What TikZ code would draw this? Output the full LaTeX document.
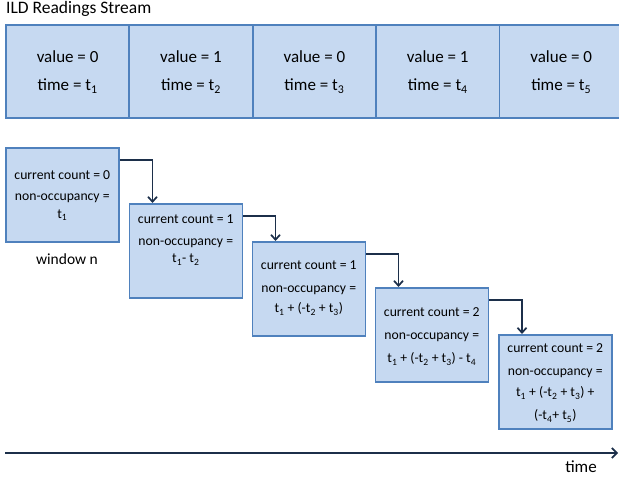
\documentclass[tikz,border=0pt]{standalone}
\usepackage{fontspec}
\setmainfont{Carlito}
\usetikzlibrary{arrows.meta}
\definecolor{cellfill}{HTML}{C6D9F1}
\definecolor{celldraw}{HTML}{4F81BD}
\definecolor{linkcol}{HTML}{1C2F4A}
\tikzset{
  x=1pt, y=-1pt,
  cell/.style={draw=celldraw, fill=cellfill, line width=1.8pt, rectangle,
    anchor=north west, inner sep=0pt, minimum width=123.4pt, minimum height=93pt},
  winbox/.style={draw=celldraw, fill=cellfill, line width=1.6pt, rectangle,
    anchor=north west, inner sep=0pt, minimum width=113pt, minimum height=94pt},
  celltext/.style={anchor=base, font=\fontsize{17}{20}\selectfont, inner sep=0pt},
  wintext/.style={anchor=base, font=\fontsize{13.7}{16}\selectfont, inner sep=0pt},
  plain/.style={anchor=base, font=\fontsize{17.5}{20}\selectfont, inner sep=0pt},
  link/.style={draw=linkcol, line width=1.9pt, -{Straight Barb[length=5pt,width=9pt,line width=1.7pt]}},
  axis/.style={draw=linkcol, line width=2.2pt, -{Straight Barb[length=5pt,width=10pt,line width=1.7pt]}}
}
\newcommand{\ts}[1]{t\textsubscript{#1}}
\begin{document}
\begin{tikzpicture}
\useasboundingbox (0,0) rectangle (619,478);

% stream of readings
\node[plain, anchor=base west] (title) at (6,14) {ILD Readings Stream};
\node[cell] (c1) at (5,24) {};
\node[cell] (c2) at (128.4,24) {};
\node[cell] (c3) at (251.8,24) {};
\node[cell] (c4) at (375.2,24) {};
\node[cell] (c5) at (498.6,24) {};
\foreach \i/\v in {1/0,2/1,3/0,4/1,5/0}{
  \node[celltext] (v\i) at ([yshift=-39pt]c\i.north) {value = \v};
  \node[celltext] (t\i) at ([yshift=-66.5pt]c\i.north) {time = \ts{\i}};
}

% sliding windows
\node[winbox] (w1) at (5,147) {};
\node[winbox] (w2) at (128.5,203) {};
\node[winbox] (w3) at (251.5,241) {};
\node[winbox] (w4) at (374.5,287) {};
\node[winbox] (w5) at (498,334) {};

\node[wintext] (w1a) at ([yshift=-32.5pt]w1.north) {current count = 0};
\node[wintext] (w1b) at ([yshift=-54pt]w1.north) {non-occupancy =};
\node[wintext] (w1c) at ([yshift=-71.5pt]w1.north) {\ts{1}};

\node[wintext] (w2a) at ([yshift=-21pt]w2.north) {current count = 1};
\node[wintext] (w2b) at ([yshift=-43pt]w2.north) {non-occupancy =};
\node[wintext] (w2c) at ([yshift=-60pt]w2.north) {\ts{1}- \ts{2}};

\node[wintext] (w3a) at ([yshift=-29pt]w3.north) {current count = 1};
\node[wintext] (w3b) at ([yshift=-52pt]w3.north) {non-occupancy =};
\node[wintext] (w3c) at ([yshift=-72pt]w3.north) {\ts{1} + (-\ts{2} + \ts{3})};

\node[wintext] (w4a) at ([yshift=-30pt]w4.north) {current count = 2};
\node[wintext] (w4b) at ([yshift=-53pt]w4.north) {non-occupancy =};
\node[wintext] (w4c) at ([yshift=-76pt]w4.north) {\ts{1} + (-\ts{2} + \ts{3}) - \ts{4}};

\node[wintext] (w5a) at ([yshift=-19pt]w5.north) {current count = 2};
\node[wintext] (w5b) at ([yshift=-42pt]w5.north) {non-occupancy =};
\node[wintext] (w5c) at ([yshift=-63pt]w5.north) {\ts{1} + (-\ts{2} + \ts{3}) +};
\node[wintext] (w5d) at ([yshift=-86pt]w5.north) {(-\ts{4}+ \ts{5})};

\node[wintext, font=\fontsize{15.5}{18}\selectfont] (wn) at (67,265) {window n};

% links between consecutive windows
\draw[link] ([yshift=-13pt]w1.north east) -| ([xshift=24pt]w2.north west);
\draw[link] ([yshift=-13pt]w2.north east) -| ([xshift=24pt]w3.north west);
\draw[link] ([yshift=-13pt]w3.north east) -| ([xshift=24pt]w4.north west);
\draw[link] ([yshift=-13pt]w4.north east) -| ([xshift=24pt]w5.north west);

% time axis
\coordinate (ax0) at (5,453);
\coordinate (ax1) at (618,453);
\draw[axis] (ax0) -- (ax1);
\node[plain, font=\fontsize{17}{20}\selectfont] (time) at (581,472) {time};
\end{tikzpicture}
\end{document}
